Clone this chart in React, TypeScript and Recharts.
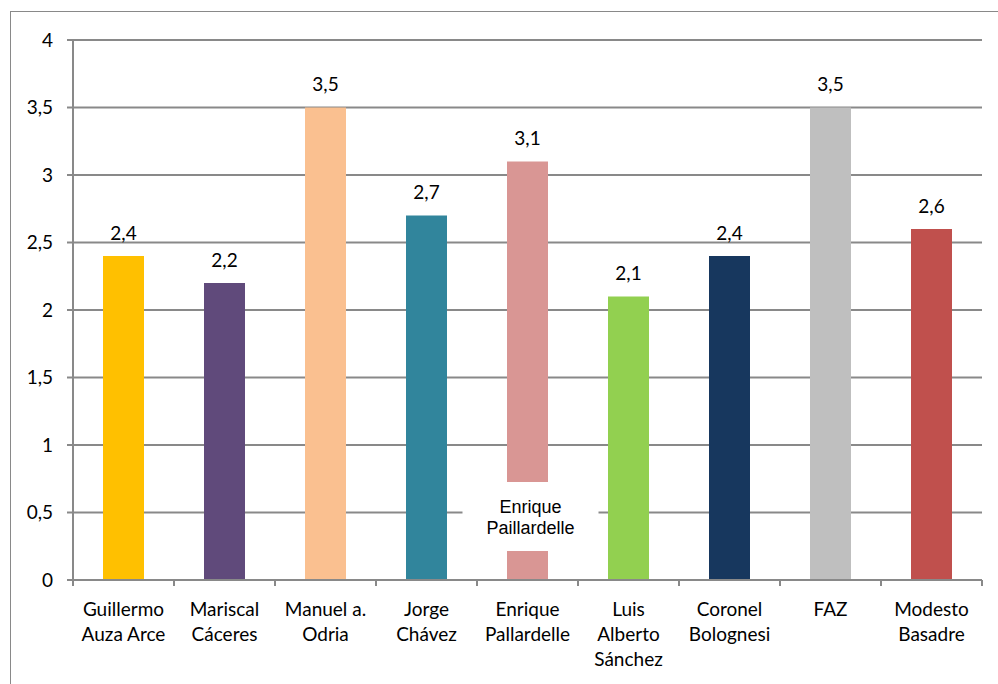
import React from 'react';
import { BarChart, Bar, XAxis, YAxis, CartesianGrid, Cell, LabelList } from 'recharts';

const categories = [
  'Guillermo\nAuza Arce',
  'Mariscal\nCáceres',
  'Manuel a.\nOdria',
  'Jorge\nChávez',
  'Enrique\nPallardelle',
  'Luis\nAlberto\nSánchez',
  'Coronel\nBolognesi',
  'FAZ',
  'Modesto\nBasadre',
];
const values = [2.4, 2.2, 3.5, 2.7, 3.1, 2.1, 2.4, 3.5, 2.6];
const barColors = ['#FFC000', '#604A7B', '#FAC090', '#31859C', '#D99694', '#92D050', '#17375E', '#BFBFBF', '#C0504D'];
const notes = ['', '', '', '', 'Enrique\nPaillardelle', '', '', '', ''];
const yTicks = [0, 0.5, 1, 1.5, 2, 2.5, 3, 3.5, 4];

const data = categories.map((name, i) => ({ name, value: values[i], note: notes[i] }));

const FONT = 'Lato, "Noto Sans", sans-serif';
const GRAY = '#898989';
const comma = (v: number) => String(v).replace('.', ',');

const CategoryTick = (props: any) => {
  const { x, y, payload, index } = props;
  const half = payload?.offset || 50.5;
  const lines = String(payload.value).split('\n');
  return (
    <g>
      <line x1={x - half} x2={x - half} y1={y} y2={y + 6} stroke={GRAY} strokeWidth={2} />
      {index === categories.length - 1 && (
        <line x1={x + half} x2={x + half} y1={y} y2={y + 6} stroke={GRAY} strokeWidth={2} />
      )}
      {lines.map((t, i) => (
        <text key={i} x={x} y={y + 28 + i * 25} textAnchor="middle" dominantBaseline="central"
          fontFamily={FONT} fontSize={19} fill="#000">
          {t}
        </text>
      ))}
    </g>
  );
};

const ValueLabel = (props: any) => {
  const { x, y, width, value } = props;
  return (
    <text x={x + width / 2} y={y - 24} textAnchor="middle" dominantBaseline="central"
      fontFamily={FONT} fontSize={19} fill="#000">
      {comma(value)}
    </text>
  );
};

const NoteBox = (props: any) => {
  const { x, y, width, height, value } = props;
  if (!value) return null;
  const cx = x + width / 2 + 3;
  const bottom = y + height;
  const lines = String(value).split('\n');
  return (
    <g>
      <rect x={cx - 68} y={bottom - 98} width={136} height={69} fill="#fff" />
      {lines.map((t, i) => (
        <text key={i} x={cx} y={bottom - 73 + i * 21} textAnchor="middle" dominantBaseline="central"
          fontFamily='"Liberation Sans", Arial, sans-serif' fontSize={18} fill="#000">
          {t}
        </text>
      ))}
    </g>
  );
};

export default function App() {
  return (
    <div style={{ position: 'fixed', left: 0, top: 0, width: 998, height: 684, overflow: 'hidden', background: '#fff' }}>
      <div style={{ position: 'absolute', left: 10, top: 11, width: 1000, height: 700, border: `1px solid ${GRAY}` }}>
        <BarChart width={990} height={690} data={data} margin={{ top: 28, right: 19, left: 0, bottom: 32 }}>
          <CartesianGrid vertical={false} stroke={GRAY} strokeWidth={2} />
          <XAxis dataKey="name" interval={0} height={90} tickLine={false} tickSize={0} tickMargin={0}
            axisLine={{ stroke: GRAY, strokeWidth: 2 }} tick={<CategoryTick />} />
          <YAxis width={62} domain={[0, 4]} ticks={yTicks} tickFormatter={comma}
            tickSize={6} tickMargin={14} axisLine={{ stroke: GRAY, strokeWidth: 2 }}
            tickLine={{ stroke: GRAY, strokeWidth: 2 }}
            tick={{ fontFamily: FONT, fontSize: 19, fill: '#000' }} />
          <Bar dataKey="value" barSize={41} isAnimationActive={false}>
            {data.map((d, i) => (
              <Cell key={d.name} fill={barColors[i]} />
            ))}
            <LabelList dataKey="value" content={<ValueLabel />} />
            <LabelList dataKey="note" content={<NoteBox />} />
          </Bar>
        </BarChart>
      </div>
    </div>
  );
}
